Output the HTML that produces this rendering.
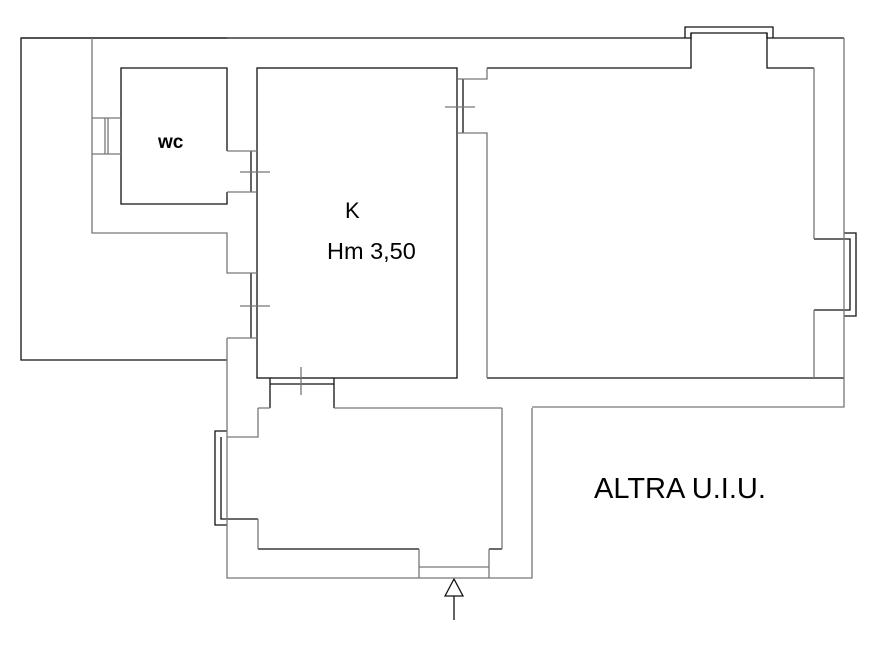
<!DOCTYPE html>
<html><head><style>body{margin:0;background:#fff}svg{display:block}</style></head><body>
<svg width="877" height="656" viewBox="0 0 877 656" xmlns="http://www.w3.org/2000/svg" fill="none" stroke-width="1.3">
<g stroke="#111">
<path d="M227 38H21V360H227"/>
<path d="M21 38H691V33H767V38H844"/>
<path d="M685 38V27H773V38"/>
<path d="M227 151V68H121V204H227V192"/>
<rect x="257" y="68" width="200" height="310"/>
<path d="M487 68H691V33 M767 33V68H814"/>
<path d="M487 378H844"/>
<path d="M814 239H850V310H814"/>
<path d="M844 233H856V316H844"/>
<path d="M463 79V133"/>
<path d="M251 151V192 M251 273V338"/>
<path d="M270 378V408 M334 378V408 M270 384H334"/>
<path d="M221 437V519H258 M227 431H215V525H227"/>
<path d="M258 549H419 M489 549H502"/>
<path d="M445 596L454 579L463 596Z M454 596V620"/>
</g>
<g stroke="#777">
<path d="M92 38V233H227V273H257 M227 338H257 M227 338V578H532V408 M532 407H844V38"/>
<path d="M92 118H121 M92 154H121 M105 118V154 M108 118V154"/>
<path d="M227 151H257 M227 192H257"/>
<path d="M458 79H487V68 M458 133H487V378"/>
<path d="M814 68V239 M814 310V378"/>
<path d="M502 408V549 M334 408H502 M258 408H270 M258 408V437H227 M258 519V549 M419 549V578 M489 549V578 M419 567H489"/>
<path d="M240 172H270 M240 306H270 M445 107H475 M301 367V395"/>
</g>
<g font-family="Liberation Sans, sans-serif" fill="#000">
<text x="158" y="148" font-size="19" font-weight="bold" stroke="none">wc</text>
<text x="345" y="218" font-size="22">K</text>
<text x="327" y="259" font-size="23.5">Hm 3,50</text>
<text x="594" y="498" font-size="29">ALTRA U.I.U.</text>
</g>
</svg>
</body></html>
